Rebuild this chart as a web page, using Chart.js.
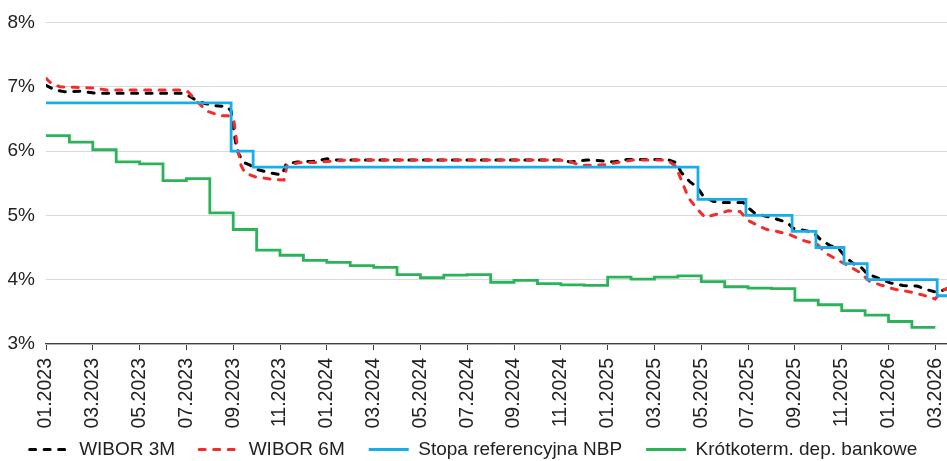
<!DOCTYPE html>
<html>
<head>
<meta charset="utf-8">
<script src="https://cdn.jsdelivr.net/npm/chart.js@4.4.1/dist/chart.umd.min.js"></script>
<style>
    html, body { margin: 0; padding: 0; background: #fff; }
    .chart-box { position: relative; width: 947px; height: 461px; }
</style>
</head>
<body>
<div class="chart-box"><canvas id="ratesChart"></canvas></div>
<script>
// x positions are months counted from 01.2023 (0 = start of January 2023)
const tickLabels = ['01.2023', '03.2023', '05.2023', '07.2023', '09.2023', '11.2023',
    '01.2024', '03.2024', '05.2024', '07.2024', '09.2024', '11.2024',
    '01.2025', '03.2025', '05.2025', '07.2025', '09.2025', '11.2025',
    '01.2026', '03.2026'];

// WIBOR 3M
const wibor3mMonths = [0, 0.38, 0.81, 1.45, 2.09, 3.16, 4.44, 5.85, 6.15, 6.45, 6.79, 7.14, 7.74, 7.91,
    8.03, 8.16, 8.42, 8.72, 9.06, 9.57, 10.09, 10.26, 10.73, 11.41, 11.71, 12.01, 12.44, 15.13, 18.12,
    21.97, 22.39, 23.12, 23.68, 24.23, 24.83, 26.54, 26.92, 27.14, 27.52, 27.82, 28.08, 28.50, 28.93,
    29.79, 30.00, 30.30, 30.73, 31.24, 31.67, 31.92, 32.35, 32.78, 33.08, 33.50, 33.85, 34.15, 34.49,
    34.79, 35.09, 35.51, 36.07, 36.62, 37.22, 37.69, 38.08, 38.50];
const wibor3mValues = [7.02, 6.95, 6.92, 6.93, 6.90, 6.90, 6.90, 6.90, 6.85, 6.78, 6.74, 6.71, 6.69, 6.62,
    6.30, 6.01, 5.83, 5.78, 5.71, 5.66, 5.63, 5.80, 5.83, 5.84, 5.86, 5.88, 5.86, 5.86, 5.86,
    5.86, 5.83, 5.86, 5.85, 5.83, 5.87, 5.87, 5.82, 5.67, 5.52, 5.44, 5.30, 5.22, 5.20,
    5.20, 5.12, 5.03, 4.99, 4.94, 4.89, 4.80, 4.77, 4.74, 4.63, 4.53, 4.49, 4.36, 4.25,
    4.21, 4.09, 4.03, 3.95, 3.91, 3.90, 3.84, 3.80, 3.86];

// WIBOR 6M
const wibor6mMonths = [0, 0.26, 0.60, 1.24, 2.01, 2.61, 5.85, 6.07, 6.37, 6.88, 7.44, 7.78, 8.03, 8.12,
    8.21, 8.33, 8.50, 8.93, 9.66, 10.17, 10.30, 10.85, 11.41, 12.14, 12.86, 21.97, 22.26, 22.52, 22.82,
    23.38, 23.97, 24.53, 25.09, 26.54, 26.92, 27.09, 27.26, 27.44, 27.82, 28.16, 28.68, 29.15, 29.66,
    30.00, 30.43, 30.81, 31.24, 31.79, 32.35, 32.95, 33.38, 33.85, 34.32, 34.83, 35.17, 35.64, 36.28,
    36.92, 37.48, 37.99, 38.33, 38.50];
const wibor6mValues = [7.13, 7.04, 7.00, 6.99, 6.98, 6.95, 6.95, 6.92, 6.80, 6.62, 6.55, 6.55, 6.47, 6.22,
    6.00, 5.78, 5.66, 5.60, 5.56, 5.55, 5.78, 5.82, 5.82, 5.84, 5.86, 5.86, 5.84, 5.82, 5.78,
    5.78, 5.79, 5.83, 5.86, 5.86, 5.76, 5.60, 5.45, 5.28, 5.10, 4.97, 5.02, 5.07, 5.06,
    4.92, 4.84, 4.78, 4.75, 4.70, 4.61, 4.55, 4.40, 4.30, 4.21, 4.10, 3.98, 3.92, 3.85,
    3.81, 3.76, 3.70, 3.84, 3.86];

// NBP reference rate: month of each change and the new rate
const nbpMonths = [0, 7.91, 8.85, 27.86, 29.91, 31.88, 32.90, 34.10, 35.09, 38.08, 38.50];
const nbpRates = [6.75, 6.00, 5.75, 5.25, 5.00, 4.75, 4.50, 4.25, 4.00, 3.75, 3.75];

// Short-term bank deposits, one value per month from 01.2023
const depositRates = [6.24, 6.14, 6.02, 5.83, 5.80, 5.54, 5.57, 5.04, 4.78, 4.46, 4.38, 4.30,
    4.27, 4.22, 4.19, 4.08, 4.03, 4.07, 4.08, 3.96, 3.99, 3.94, 3.92, 3.91,
    4.04, 4.01, 4.04, 4.06, 3.97, 3.89, 3.87, 3.86, 3.68, 3.61, 3.52, 3.45,
    3.35, 3.26];

function toPoints(xs, ys) {
    return xs.map((x, i) => ({ x: x, y: ys[i] }));
}

// monthly step: each value holds from its month to the next one
function monthlyPoints(values) {
    const pts = values.map((v, i) => ({ x: i, y: v }));
    pts.push({ x: values.length, y: values[values.length - 1] });
    return pts;
}

// legend samples as lines, with the dataset's own dash
function legendLines(chart) {
    const items = Chart.defaults.plugins.legend.labels.generateLabels(chart);
    return items.map(item => {
        const ds = chart.data.datasets[item.datasetIndex];
        item.lineDash = ds.borderDash || [];
        item.lineCap = ds.borderCapStyle || 'butt';
        item.lineWidth = 3;
        item.strokeStyle = ds.borderColor;
        item.pointStyle = 'line';
        return item;
    });
}

// the x labels need the room below the axis, so the legend starts a bit higher
const legendLift = {
    id: 'legendLift',
    afterLayout(chart) {
        chart.legend.top -= 14;
    }
};

Chart.defaults.font.family = "'Liberation Sans', Arial, sans-serif";
Chart.defaults.color = '#222';

const ctx = document.getElementById('ratesChart').getContext('2d');
new Chart(ctx, {
    type: 'line',
    data: {
        datasets: [
            {
                label: 'WIBOR 3M',
                data: toPoints(wibor3mMonths, wibor3mValues),
                borderColor: '#000000',
                backgroundColor: '#000000',
                borderWidth: 3,
                borderDash: [6, 8.5],
                borderCapStyle: 'round',
                pointRadius: 0,
                order: 4
            },
            {
                label: 'WIBOR 6M',
                data: toPoints(wibor6mMonths, wibor6mValues),
                borderColor: '#f52a2a',
                backgroundColor: '#f52a2a',
                borderWidth: 3,
                borderDash: [6, 8.5],
                borderCapStyle: 'round',
                pointRadius: 0,
                order: 3
            },
            {
                label: 'Stopa referencyjna NBP',
                data: toPoints(nbpMonths, nbpRates),
                borderColor: '#17ade8',
                backgroundColor: '#17ade8',
                borderWidth: 2.8,
                stepped: 'before',
                pointRadius: 0,
                order: 1
            },
            {
                label: 'Krótkoterm. dep. bankowe',
                data: monthlyPoints(depositRates),
                borderColor: '#2bb35a',
                backgroundColor: '#2bb35a',
                borderWidth: 2.8,
                stepped: 'before',
                pointRadius: 0,
                order: 2
            }
        ]
    },
    plugins: [legendLift],
    options: {
        responsive: true,
        maintainAspectRatio: false,
        animation: false,
        layout: {
            padding: { top: 16, right: 0, bottom: 0, left: 0 }
        },
        plugins: {
            tooltip: { enabled: false },
            legend: {
                position: 'bottom',
                maxHeight: 31,
                labels: {
                    usePointStyle: true,
                    pointStyle: 'line',
                    pointStyleWidth: 40,
                    padding: 24,
                    color: '#222',
                    font: { size: 19 },
                    sort: (a, b) => a.datasetIndex - b.datasetIndex,
                    generateLabels: legendLines
                }
            }
        },
        scales: {
            x: {
                type: 'linear',
                min: 0,
                max: 38.5,
                afterBuildTicks: scale => {
                    scale.ticks = tickLabels.map((t, i) => ({ value: i * 2 }));
                },
                afterFit: scale => {
                    scale.height = 86;
                    scale.paddingLeft = 0;
                    scale.paddingRight = 0;
                },
                ticks: {
                    minRotation: 90,
                    maxRotation: 90,
                    autoSkip: false,
                    padding: 8,
                    color: '#222',
                    font: { size: 19.5 },
                    callback: (value, index) => tickLabels[index]
                },
                grid: {
                    drawOnChartArea: false,
                    drawTicks: true,
                    tickLength: 6,
                    color: '#404040'
                },
                border: { display: true, color: '#404040', width: 1.3 }
            },
            y: {
                min: 3,
                max: 8,
                afterFit: scale => { scale.width = 46; },
                ticks: {
                    stepSize: 1,
                    padding: 11,
                    color: '#222',
                    font: { size: 19 },
                    callback: value => value + '%'
                },
                grid: {
                    color: '#d9d9d9',
                    drawTicks: false
                },
                border: { display: false }
            }
        }
    }
});
</script>
</body>
</html>
